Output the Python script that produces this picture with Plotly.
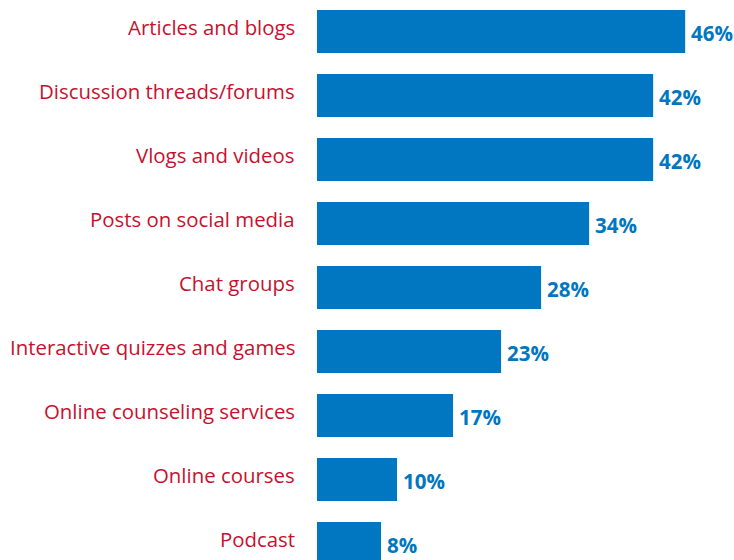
import plotly.graph_objects as go

categories = [
    "Articles and blogs",
    "Discussion threads/forums",
    "Vlogs and videos",
    "Posts on social media",
    "Chat groups",
    "Interactive quizzes and games",
    "Online counseling services",
    "Online courses",
    "Podcast",
]
values = [46, 42, 42, 34, 28, 23, 17, 10, 8]
value_labels = ["46%", "42%", "42%", "34%", "28%", "23%", "17%", "10%", "8%"]

BAR_BLUE = "#0077c0"
LABEL_RED = "#c8102e"
FONT = "Open Sans"

positions = list(range(len(categories)))

fig = go.Figure(
    go.Bar(
        x=values,
        y=positions,
        orientation="h",
        width=0.672,
        marker=dict(color=BAR_BLUE, line=dict(width=0)),
        hoverinfo="skip",
    )
)

annotations = []
for pos, cat, val, lab in zip(positions, categories, values, value_labels):
    annotations.append(dict(
        x=0, y=pos, xref="x", yref="y", text=cat, showarrow=False,
        xanchor="right", yanchor="middle", xshift=-20, yshift=4,
        font=dict(family=FONT, size=20.4, color=LABEL_RED),
    ))
    annotations.append(dict(
        x=val, y=pos, xref="x", yref="y", text="<b>" + lab + "</b>", showarrow=False,
        xanchor="left", yanchor="middle", xshift=4, yshift=-2,
        font=dict(family=FONT, size=20.5, color=BAR_BLUE),
    ))

fig.update_layout(
    width=734,
    height=560,
    margin=dict(l=317, r=0, t=0, b=0),
    paper_bgcolor="white",
    plot_bgcolor="white",
    showlegend=False,
    annotations=annotations,
    xaxis=dict(range=[0, 52.1], visible=False, fixedrange=True),
    yaxis=dict(range=[8.258, -0.492], visible=False, fixedrange=True),
)

fig.write_html("out.html")
